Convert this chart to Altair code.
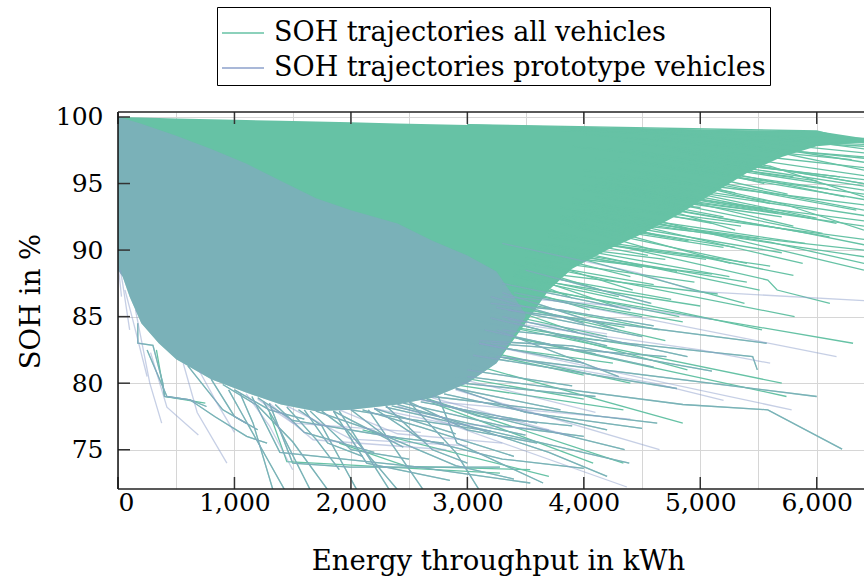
import altair as alt
import pandas as pd

X_MIN, X_MAX = 0, 6406
Y_MIN, Y_MAX = 72.05, 100.375

ALL_LABEL = "SOH trajectories all vehicles"
PROTO_LABEL = "SOH trajectories prototype vehicles"
GREEN = "#66c2a5"
BLUE = "#8da0cb"
FONT = "DejaVu Serif"

# dense envelope of all-vehicle trajectories (kWh, upper SOH, lower SOH)
band_all_kwh = [0, 40, 100, 200, 350, 500, 800, 1100, 1400, 1700, 2000, 2400, 2700, 3000,
                3250, 3500, 3700, 3900, 4200, 4500, 4800, 5100, 5400, 5700, 6000, 6406]
band_all_hi = [100.0, 99.99, 99.98, 99.96, 99.92, 99.89, 99.83, 99.77, 99.71, 99.66, 99.6, 99.52,
               99.46, 99.4, 99.35, 99.3, 99.27, 99.23, 99.18, 99.13, 99.08, 99.03, 98.99, 98.97,
               98.95, 98.4]
band_all_lo = [88.5, 88.0, 86.5, 84.5, 83.0, 81.8, 80.3, 79.3, 78.4, 77.9, 78.0, 78.4, 78.9, 80.0,
               81.5, 84.5, 87.0, 88.6, 90.0, 91.2, 92.6, 94.2, 95.8, 97.0, 97.8, 98.1]

# dense envelope of prototype-vehicle trajectories
band_proto_kwh = [0, 40, 100, 200, 350, 500, 800, 1100, 1400, 1700, 2000, 2400, 2700, 3000, 3250, 3500]
band_proto_hi = [100.0, 99.9, 99.75, 99.5, 99.05, 98.6, 97.6, 96.5, 95.2, 93.9, 93.0, 92.0, 90.7,
                 89.6, 88.4, 85.2]
band_proto_lo = [88.5, 88.0, 86.5, 84.5, 83.0, 81.8, 80.3, 79.3, 78.4, 77.9, 78.0, 78.4, 78.9,
                 80.0, 81.5, 85.0]

# individual visible trajectories (kWh, SOH %)
all_only_traj = [
    [(3000, 99.42), (6000, 98.95), (6406, 98.05)],
    [(3000, 99.4), (5380, 98.85), (5450, 98.3), (6406, 98.1)],
    [(3200, 99.35), (5860, 98.85), (5960, 98.1), (6406, 97.95)],
    [(4500, 99.0), (6406, 97.3)],
    [(4800, 98.8), (6406, 96.6)],
    [(4600, 98.5), (6406, 96.9)],
    [(4500, 98.0), (6406, 95.6)],
    [(4700, 97.5), (6406, 95.0)],
    [(4400, 97.2), (6406, 94.5)],
    [(4600, 96.5), (6406, 93.8)],
    [(4200, 95.5), (6406, 92.6)],
    [(4300, 95.2), (6170, 92.0)],
    [(4700, 96.8), (6240, 94.0)],
    [(4500, 96.0), (6340, 93.0)],
    [(4200, 94.5), (6050, 91.25)],
    [(4100, 94.0), (6110, 91.0)],
    [(3900, 93.0), (5880, 89.0)],
    [(3800, 92.0), (5400, 89.0)],
    [(3800, 92.5), (5260, 89.0)],
    [(4000, 93.5), (6406, 88.5)],
    [(3700, 91.5), (5580, 87.75), (5660, 87.0), (6113, 86.0)],
    [(3600, 90.5), (5510, 87.0)],
    [(3700, 90.0), (5380, 86.0)],
    [(3500, 89.0), (5810, 85.0)],
    [(3400, 88.0), (5530, 84.0)],
    [(3300, 87.5), (6312, 83.0)],
    [(3100, 84.0), (5740, 79.0)],
    [(3200, 84.5), (5700, 80.0)],
    [(3000, 81.5), (4850, 77.0)],
    [(2600, 79.0), (4340, 74.0)],
    [(2800, 80.0), (4340, 78.0)],
    [(3500, 89.5), (4420, 87.0)],
    [(3500, 88.5), (4580, 86.0)],
    [(3400, 87.5), (4820, 85.0)],
    [(3200, 85.0), (4890, 81.0)],
    [(2100, 76.5), (3700, 73.0)],
    [(1300, 77.8), (1450, 74.1), (3280, 73.25)],
    [(1900, 75.5), (2480, 73.75), (3540, 73.5)],
    [(2700, 78.5), (4080, 74.0)],
    [(4800, 97.5), (5600, 96.3), (6406, 94.0)],
    [(5200, 98.2), (6406, 96.0)],
    [(4400, 96.0), (5700, 93.5), (6406, 91.5)],
    [(4000, 94.5), (5200, 92.5)],
    [(3900, 93.5), (4900, 91.5)],
    [(3800, 92.0), (4600, 90.0)],
    [(5400, 98.8), (6406, 97.6)],
    [(3600, 90.5), (4700, 89.3)],
    [(4300, 95.5), (5000, 94.8), (5600, 93.5)],
    [(4100, 94.0), (5000, 93.2)],
    [(4000, 93.0), (4800, 92.8), (5300, 91.5)],
    [(3700, 90.0), (4500, 88.7)],
    [(3800, 89.5), (5100, 88.2)],
    [(4500, 97.0), (5800, 95.5)],
    [(4900, 97.2), (5500, 95.8), (6000, 95.2)],
    [(3600, 87.8), (4300, 85.7)],
    [(3300, 86.0), (4700, 83.2)],
    [(3100, 82.5), (4400, 80.0)],
    [(2900, 80.5), (4000, 78.8)],
    [(330, 82.5), (400, 79.0), (750, 78.5)],
    [(3800, 99.0), (6406, 98.4)],
    [(4200, 98.9), (6406, 97.8)],
    [(4000, 98.7), (6406, 97.0)],
    [(4300, 98.2), (6406, 96.2)],
    [(3900, 97.8), (6406, 95.3)],
    [(4400, 97.5), (6406, 94.8)],
    [(4100, 96.9), (6406, 94.2)],
    [(4000, 96.0), (6406, 93.4)],
    [(3900, 95.0), (6406, 92.2)],
    [(4200, 94.6), (6406, 91.8)],
    [(4000, 93.6), (6406, 90.8)],
    [(3900, 92.4), (6406, 90.0)],
    [(4100, 92.5), (6406, 89.5)],
    [(4500, 98.3), (6300, 96.8)],
    [(4200, 97.6), (6200, 95.5)],
    [(4300, 96.9), (6100, 94.6)],
    [(4000, 95.6), (6000, 93.0)],
    [(4100, 95.2), (5950, 92.4)],
    [(3800, 93.2), (5900, 90.5)],
    [(4300, 94.9), (5800, 91.8)],
    [(4400, 96.8), (5750, 94.2)],
    [(3800, 92.6), (5700, 89.8)],
    [(4100, 95.0), (5650, 92.8)],
    [(3700, 91.2), (5600, 88.8)],
    [(4600, 97.0), (5550, 95.0)],
    [(3900, 92.8), (5500, 90.9)],
    [(4000, 94.6), (5450, 93.0)],
    [(3600, 90.2), (5400, 87.6)],
    [(3900, 93.6), (5350, 91.8)],
    [(4300, 96.1), (5300, 94.3)],
    [(3600, 90.6), (5250, 88.0)],
    [(3800, 92.1), (5200, 90.2)],
    [(3450, 88.5), (5150, 86.7)],
    [(3900, 93.9), (5100, 92.0)],
    [(3700, 91.0), (5050, 89.3)],
    [(3400, 88.0), (5000, 85.8)],
    [(3500, 89.4), (4950, 87.6)],
    [(3800, 92.3), (4900, 90.7)],
    [(3300, 87.0), (4850, 84.6)],
    [(3600, 90.0), (4800, 88.4)],
    [(3400, 88.4), (4750, 86.3)],
    [(3900, 92.6), (4700, 91.0)],
    [(3300, 86.3), (4650, 84.0)],
    [(3500, 89.1), (4600, 87.4)],
    [(3700, 91.0), (4550, 89.6)],
    [(3300, 86.9), (4500, 85.0)],
    [(3100, 84.6), (4450, 82.8)],
    [(3500, 90.0), (4400, 88.0)],
    [(3200, 86.0), (4350, 84.2)],
    [(3400, 88.2), (4300, 86.5)],
    [(3000, 83.0), (4250, 81.5)],
    [(3200, 85.4), (4200, 83.5)],
    [(3400, 89.0), (4150, 87.0)],
    [(3100, 84.0), (4100, 82.2)],
    [(3300, 87.5), (4050, 85.5)],
    [(3000, 82.5), (4000, 80.6)],
    [(3200, 86.1), (3950, 83.8)],
    [(3400, 88.2), (3900, 86.4)],
    [(4600, 92.0), (5600, 90.6), (6406, 89.0)],
    [(4800, 93.0), (5900, 91.3), (6406, 90.4)],
    [(5000, 94.2), (6000, 92.4)],
    [(4400, 91.5), (5300, 90.2)],
    [(5200, 95.0), (6406, 93.0)],
    [(5500, 96.3), (6406, 95.0)],
    [(4200, 90.4), (5000, 89.5), (5800, 88.1)],
    [(4900, 93.5), (5700, 92.5)],
]

shared_traj = [
    [(3000, 80.5), (4850, 78.4), (5580, 78.0), (6218, 75.05)],
    [(3250, 82.0), (6000, 79.0)],
    [(3300, 84.0), (5450, 82.0), (5490, 81.0)],
    [(3350, 85.5), (5570, 83.0)],
    [(3200, 83.0), (4710, 82.0)],
    [(3300, 85.0), (4890, 82.0)],
    [(2700, 79.0), (4630, 77.0)],
    [(2300, 78.2), (4390, 74.0)],
    [(2600, 78.8), (4350, 75.0)],
    [(950, 79.5), (1045, 78.0), (1430, 72.0)],
    [(1050, 79.2), (1160, 77.0), (1330, 72.0)],
    [(1250, 78.6), (1390, 76.5), (1650, 72.0)],
    [(1750, 77.9), (1965, 76.5), (2400, 72.0)],
    [(1150, 79.0), (1390, 74.8), (2530, 73.75), (3540, 72.5)],
    [(2750, 79.0), (2910, 75.5), (3650, 72.5)],
    [(250, 82.5), (420, 79.0), (617, 78.75), (830, 77.5), (1105, 76.0), (1280, 75.5)],
    [(170, 84.5), (170, 83.0), (300, 82.85), (385, 80.0), (400, 79.0), (620, 78.75), (760, 78.25)],
    [(1300, 78.5), (1500, 74.0), (1990, 73.7), (3280, 73.7)],
    [(1900, 77.9), (2330, 72.0)],
    [(2150, 78.0), (2620, 72.0)],
    [(1850, 77.9), (2135, 74.0), (2850, 72.7)],
    [(2300, 78.3), (2700, 75.0), (3000, 74.0)],
    [(3200, 86.5), (4000, 84.5)],
    [(3250, 84.0), (4300, 80.5)],
    [(2950, 80.0), (4100, 79.0)],
    [(3300, 87.5), (4400, 85.5)],
    [(600, 81.3), (900, 78.0), (1100, 77.0)],
    [(800, 80.3), (1000, 77.5), (1200, 76.5)],
    [(1600, 78.0), (1800, 75.5), (2100, 74.5)],
    [(2000, 78.0), (2300, 76.0), (2800, 75.5)],
    [(2500, 78.6), (3000, 76.5), (3600, 75.5)],
    [(3300, 86.8), (4300, 84.0)],
    [(3250, 85.7), (4500, 83.5)],
    [(3200, 84.9), (4200, 82.8)],
    [(3150, 84.0), (4600, 81.2)],
    [(3100, 83.0), (4000, 81.5)],
    [(3050, 82.1), (4800, 79.6)],
    [(3000, 81.0), (3900, 79.8)],
    [(2900, 79.6), (3800, 78.0)],
    [(2800, 79.2), (4200, 76.5)],
    [(2600, 78.6), (3600, 77.0)],
    [(2450, 78.5), (3300, 76.8), (4000, 76.0)],
    [(2200, 78.1), (2900, 76.2)],
    [(2100, 78.0), (2600, 76.7), (3400, 74.5)],
    [(1850, 77.9), (2450, 75.2)],
    [(1650, 77.9), (2000, 75.0), (2500, 74.3)],
    [(1450, 78.2), (1700, 75.8), (1900, 73.5)],
    [(1350, 78.4), (1600, 76.3), (2200, 74.8)],
    [(1000, 79.5), (1300, 78.0), (1600, 77.3)],
    [(2200, 78.1), (2600, 75.8), (3300, 74.3), (4000, 73.6)],
    [(2650, 78.8), (3100, 77.5), (3900, 76.8)],
    [(2350, 78.3), (3000, 77.0), (3500, 76.1)],
    [(1550, 78.0), (1750, 76.8), (2050, 72.0)],
    [(2500, 78.6), (2900, 74.8), (3100, 72.0)],
    [(2900, 79.6), (3500, 77.8), (4500, 76.6)],
    [(3100, 83.2), (3900, 82.8), (5100, 80.9)],
    [(3200, 86.0), (3800, 85.5), (4600, 84.3)],
    [(1200, 78.9), (1500, 77.2), (2400, 75.9)],
    [(1700, 77.9), (2200, 76.4), (2900, 73.8), (3400, 72.8)],
    [(2400, 78.4), (2800, 77.4), (3700, 74.8), (4200, 73.0)],
    [(2000, 78.0), (2500, 77.3), (3200, 76.4)],
    [(900, 79.9), (1200, 78.3), (1500, 75.6), (1800, 72.0)],
]

proto_only_traj = [
    [(3300, 90.5), (4455, 88.3), (4970, 86.9), (6406, 86.2)],
    [(3400, 86.8), (6170, 82.0)],
    [(3100, 83.0), (5785, 78.0)],
    [(2900, 79.5), (4650, 75.0)],
    [(2400, 78.3), (4370, 72.2)],
    [(3500, 88.5), (4570, 86.0)],
    [(20, 88.5), (40, 87.5), (100, 84.0)],
    [(150, 85.5), (273, 80.0), (375, 77.0)],
    [(280, 82.3), (420, 78.2), (690, 76.1)],
    [(560, 81.5), (680, 77.8), (935, 74.0)],
    [(1300, 78.5), (1675, 75.75), (2820, 75.0)],
    [(1450, 78.3), (2000, 75.8), (3000, 75.3)],
    [(2700, 78.9), (3900, 76.0)],
    [(3000, 80.2), (4100, 77.8)],
    [(0, 89.0), (30, 86.5)],
    [(60, 87.0), (120, 85.0), (250, 80.5)],
    [(700, 80.9), (850, 78.5), (1000, 76.3)],
    [(1100, 79.2), (1300, 76.8), (1500, 73.5)],
    [(1900, 78.0), (2400, 76.2), (3300, 75.5)],
    [(3300, 82.0), (4600, 80.0), (5200, 78.7)],
    [(3400, 84.5), (5000, 82.5), (5600, 81.5)],
    [(1200, 78.8), (1500, 77.0), (2600, 76.3)],
    [(2200, 78.1), (2800, 77.0), (3700, 76.5)],
    [(2600, 78.7), (3500, 78.0), (4400, 77.3)],
    [(3350, 84.8), (4200, 83.7)],
    [(3300, 86.5), (4300, 85.8), (5100, 84.8)],
]

x_tick_values = [0, 1000, 2000, 3000, 4000, 5000, 6000]
x_grid_values = [0, 500, 1000, 1500, 2000, 2500, 3000, 3500, 4000, 4500, 5000, 5500, 6000]
y_tick_values = [75, 80, 85, 90, 95, 100]


def to_frame(trajs, series, prefix):
    rows = []
    for i, t in enumerate(trajs):
        for j, (x, y) in enumerate(t):
            rows.append({"traj": f"{prefix}{i}", "step": j, "kwh": x, "soh": y, "series": series})
    return pd.DataFrame(rows)


green_lines = to_frame(all_only_traj + shared_traj, ALL_LABEL, "a")
proto_lines = to_frame(shared_traj + proto_only_traj, PROTO_LABEL, "p")
band_all = pd.DataFrame({"kwh": band_all_kwh, "hi": band_all_hi, "lo": band_all_lo})
band_proto = pd.DataFrame({"kwh": band_proto_kwh, "hi": band_proto_hi, "lo": band_proto_lo})

xscale = alt.Scale(domain=[X_MIN, X_MAX], nice=False, zero=False)
yscale = alt.Scale(domain=[Y_MIN, Y_MAX], nice=False, zero=False)
cscale = alt.Scale(domain=[ALL_LABEL, PROTO_LABEL], range=[GREEN, BLUE])

legend = alt.Legend(
    title=None, orient="none", legendX=99, legendY=-105,
    symbolType="stroke", symbolSize=1764, symbolStrokeWidth=1.5, symbolOpacity=1,
    labelFont=FONT, labelFontSize=27, labelLimit=1000, labelColor="black",
    labelOffset=9, fillColor="white", strokeColor="black",
    padding=4, rowPadding=-4,
)

x_axis = alt.Axis(
    title="Energy throughput in kWh", values=x_grid_values,
    labelExpr="datum.value % 1000 == 0 ? format(datum.value, ',') : ''",
    titleX=380, titleY=80, titleBaseline="alphabetic", labelPadding=1,
)
y_axis = alt.Axis(
    title="SOH in %", values=y_tick_values, titleAngle=270, titleX=-79, titleY=189,
    titleAlign="center", titleBaseline="alphabetic", labelPadding=15,
)


def X(field):
    return alt.X(field, type="quantitative", scale=xscale, axis=x_axis)


def Y(field):
    return alt.Y(field, type="quantitative", scale=yscale, axis=y_axis)


area_all = alt.Chart(band_all).mark_area(color=GREEN, clip=True).encode(
    x=X("kwh"), y=Y("hi"), y2="lo:Q",
)

lines_all = alt.Chart(green_lines).mark_line(strokeWidth=1.3, clip=True).encode(
    x=X("kwh"), y=Y("soh"),
    detail="traj:N",
    order="step:Q",
    color=alt.Color("series:N", scale=cscale, legend=legend),
)

area_proto = alt.Chart(band_proto).mark_area(color=BLUE, opacity=0.5, clip=True).encode(
    x=X("kwh"), y=Y("hi"), y2="lo:Q",
)

lines_proto = alt.Chart(proto_lines).mark_line(strokeWidth=1.3, opacity=0.5, clip=True).encode(
    x=X("kwh"), y=Y("soh"),
    detail="traj:N",
    order="step:Q",
    color=alt.Color("series:N", scale=cscale, legend=legend),
)

# frame and inward tick marks (in data units of the axes)
TICK_Y = 0.9
TICK_X = 103
xt = pd.DataFrame({"kwh": x_tick_values})
xt["b0"], xt["b1"] = Y_MIN, Y_MIN + TICK_Y
xt["t0"], xt["t1"] = Y_MAX, Y_MAX - TICK_Y
yt = pd.DataFrame({"soh": y_tick_values})
yt["l0"], yt["l1"] = X_MIN, X_MIN + TICK_X

tick_style = dict(color="#333333", strokeWidth=1.5)
bottom_ticks = alt.Chart(xt).mark_rule(**tick_style).encode(x=X("kwh"), y=Y("b0"), y2="b1:Q")
top_ticks = alt.Chart(xt).mark_rule(**tick_style).encode(x=X("kwh"), y=Y("t0"), y2="t1:Q")
left_ticks = alt.Chart(yt).mark_rule(**tick_style).encode(y=Y("soh"), x=X("l0"), x2="l1:Q")

frame_x = pd.DataFrame({"kwh": [X_MIN]})
frame_y = pd.DataFrame({"soh": [Y_MIN, Y_MAX]})
left_border = alt.Chart(frame_x).mark_rule(color="#111111", strokeWidth=1.5).encode(x=X("kwh"))
hz_border = alt.Chart(frame_y).mark_rule(color="#222222", strokeWidth=1.5).encode(y=Y("soh"))

chart = alt.layer(
    area_all, lines_all, area_proto, lines_proto,
    bottom_ticks, top_ticks, left_ticks, left_border, hz_border,
).properties(
    width=746, height=377,
    padding={"left": 118, "top": 112, "right": 0, "bottom": 89},
    autosize=alt.AutoSizeParams(type="none"),
    background="white",
).configure(
    font=FONT
).configure_view(
    strokeWidth=0
).configure_axis(
    labelFont=FONT, labelFontSize=25, labelColor="black",
    titleFont=FONT, titleFontSize=27.5, titleFontWeight="normal", titleColor="black",
    ticks=False, tickSize=0, domain=False,
    grid=True, gridColor="#d6d6d6", gridWidth=1,
).configure_legend(
    labelFont=FONT
)

chart.save("out.html", embed_options={"renderer": "svg", "actions": False})
